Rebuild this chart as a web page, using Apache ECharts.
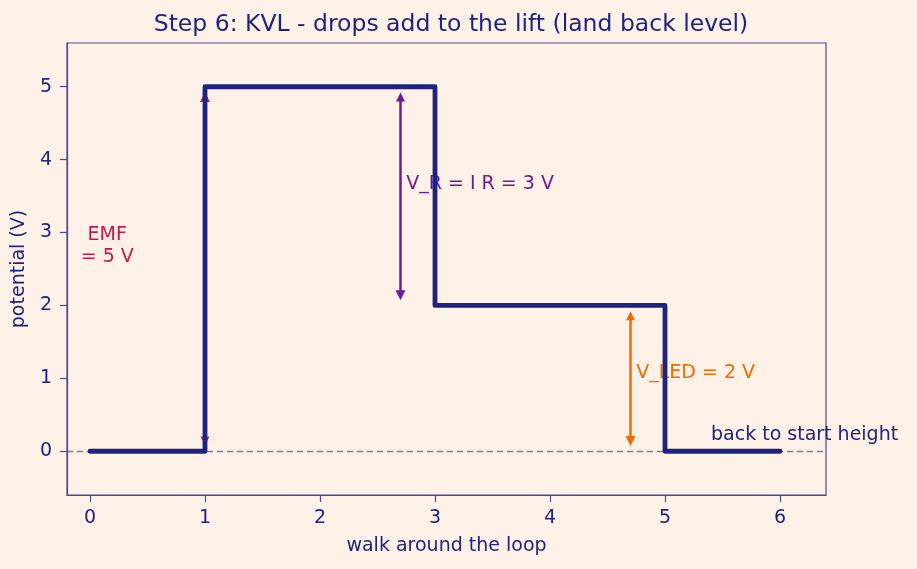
<!DOCTYPE html>
<html>
<head>
<meta charset="utf-8">
<script src="https://cdn.jsdelivr.net/npm/echarts@6/dist/echarts.min.js"></script>
<style>
  html, body { margin: 0; padding: 0; background: #fef1e7; }
  #chart { width: 917px; height: 569px; }
</style>
</head>
<body>
<div id="chart"></div>
<script>
// step path walked around the loop
var stepX = [0, 1, 1, 3, 3, 5, 5, 6];
var stepY = [0, 0, 5, 5, 2, 2, 0, 0];

// double-headed arrows: x, from, to
var arrowX = [1, 2.7, 4.7];
var arrowFrom = [0.14, 4.86, 1.86];
var arrowTo = [4.86, 2.14, 0.14];
var arrowColors = ['#c8174f', '#6a1b9a', '#ef6c00'];

// annotations
var noteText = ['EMF\n= 5 V', 'V_R = I R = 3 V', 'V_LED = 2 V', 'back to start height'];
var noteX = [0.15, 2.75, 4.75, 5.4];
var noteY = [2.82, 3.67, 1.07, 0.22];

var xTicks = [0, 1, 2, 3, 4, 5, 6];
var yTicks = [0, 1, 2, 3, 4, 5];
var startLevel = 0;

var ink = '#1f2380';
var frame = '#4b4b8c';
var font = 'DejaVu Sans';

var chart = echarts.init(document.getElementById('chart'));

var pathData = stepX.map(function (x, i) { return [x, stepY[i]]; });
var arrowData = arrowX.map(function (x, i) {
    return {
        coords: [[x, arrowFrom[i]], [x, arrowTo[i]]],
        lineStyle: { color: arrowColors[i] }
    };
});
var noteColors = [arrowColors[0], arrowColors[1], arrowColors[2], ink];
var noteData = noteText.map(function (t, i) {
    return {
        value: [noteX[i], noteY[i]],
        label: {
            formatter: t,
            color: noteColors[i],
            position: i === 0 ? 'inside' : 'right',
            align: i === 0 ? 'center' : 'left',
            distance: 0,
            lineHeight: 22
        }
    };
});

chart.setOption({
    backgroundColor: '#fef1e7',
    animation: false,
    title: {
        text: 'Step 6: KVL - drops add to the lift (land back level)',
        left: 446,
        textAlign: 'center',
        top: 8,
        textStyle: { fontFamily: font, fontSize: 23.5, fontWeight: 'normal', color: ink }
    },
    grid: {
        left: 67, right: 91, top: 43, bottom: 74,
        outerBoundsMode: 'none',
        show: true, borderColor: frame, borderWidth: 1.2, backgroundColor: 'transparent'
    },
    xAxis: {
        type: 'value',
        min: -0.2, max: 6.4,
        name: 'walk around the loop',
        nameLocation: 'middle',
        nameGap: 42,
        nameTextStyle: { fontFamily: font, fontSize: 19, color: ink },
        axisLine: { show: true, onZero: false, lineStyle: { color: frame, width: 1.2 } },
        axisTick: { show: true, length: 7, customValues: xTicks, lineStyle: { color: frame, width: 1.2 } },
        axisLabel: { fontFamily: font, fontSize: 19, color: ink, margin: 14, customValues: xTicks },
        splitLine: { show: false }
    },
    yAxis: {
        type: 'value',
        min: -0.6, max: 5.6,
        name: 'potential (V)',
        nameLocation: 'middle',
        nameGap: 33,
        nameTextStyle: { fontFamily: font, fontSize: 19, color: ink },
        axisLine: { show: true, onZero: false, lineStyle: { color: frame, width: 1.2 } },
        axisTick: { show: true, length: 7, customValues: yTicks, lineStyle: { color: frame, width: 1.2 } },
        axisLabel: { fontFamily: font, fontSize: 19, color: ink, margin: 15, customValues: yTicks },
        splitLine: { show: false }
    },
    series: [
        {
            // dashed start level, kept under everything
            type: 'line',
            z: 0,
            data: [],
            markLine: {
                z: 0,
                silent: true,
                symbol: 'none',
                label: { show: false },
                lineStyle: { color: '#8878a8', type: [6, 4], width: 1.3 },
                data: [{ yAxis: startLevel }]
            }
        },
        {
            type: 'lines',
            coordinateSystem: 'cartesian2d',
            z: 1,
            symbol: ['triangle', 'triangle'],
            symbolSize: [9, 10],
            lineStyle: { width: 2.5, opacity: 1 },
            data: arrowData
        },
        {
            // notes sit under the step line, like the original
            type: 'scatter',
            z: 2,
            symbolSize: 0,
            itemStyle: { opacity: 1 },
            label: { show: true, fontFamily: font, fontSize: 19, opacity: 1 },
            data: noteData
        },
        {
            type: 'line',
            z: 3,
            zlevel: 0,
            data: pathData,
            showSymbol: false,
            lineStyle: { color: ink, width: 4.8, join: 'round', cap: 'round' }
        }
    ]
});
</script>
</body>
</html>
